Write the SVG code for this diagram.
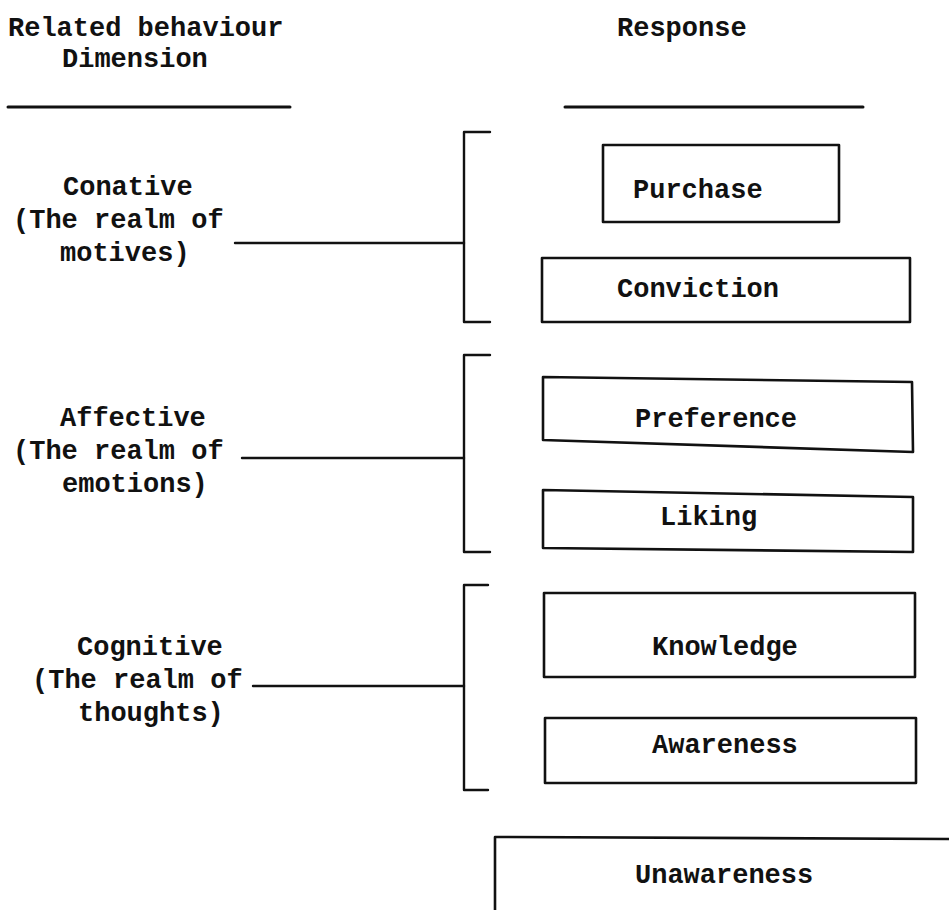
<svg xmlns="http://www.w3.org/2000/svg" width="949" height="910" viewBox="0 0 949 910">
  <style>
    text { font-family: "Liberation Mono", "DejaVu Sans Mono", monospace; font-weight: bold; font-size: 27px; fill: #111; }
    .box { fill: #fff; stroke: #111; stroke-width: 2.6; stroke-linejoin: round; }
    .rule { stroke: #111; stroke-width: 3; fill: none; stroke-linecap: round; }
    .link { stroke: #111; stroke-width: 2.4; fill: none; stroke-linecap: round; stroke-linejoin: round; }
  </style>
  <rect width="949" height="910" fill="#fff"/>

  <!-- column headings -->
  <g id="heading-dimension">
    <text x="8" y="36">Related behaviour</text>
    <text x="62" y="67">Dimension</text>
    <line class="rule" x1="8" y1="107" x2="290" y2="107"/>
  </g>
  <g id="heading-response">
    <text x="617" y="36">Response</text>
    <line class="rule" x1="565" y1="107" x2="863" y2="107"/>
  </g>

  <!-- behaviour dimensions -->
  <g id="dim-conative">
    <text x="63" y="195">Conative</text>
    <text x="13" y="228">(The realm of</text>
    <text x="60" y="261">motives)</text>
  </g>
  <g id="dim-affective">
    <text x="60" y="426">Affective</text>
    <text x="13" y="459">(The realm of</text>
    <text x="62" y="492">emotions)</text>
  </g>
  <g id="dim-cognitive">
    <text x="77" y="655">Cognitive</text>
    <text x="32" y="688">(The realm of</text>
    <text x="78" y="721">thoughts)</text>
  </g>

  <!-- response stages -->
  <g id="resp-purchase">
    <rect class="box" x="603" y="145" width="236" height="77"/>
    <text x="633" y="198">Purchase</text>
  </g>
  <g id="resp-conviction">
    <rect class="box" x="542" y="258" width="368" height="64"/>
    <text x="617" y="297">Conviction</text>
  </g>
  <g id="resp-preference">
    <polygon class="box" points="543,377 912,382 913,452 543,440"/>
    <text x="635" y="427">Preference</text>
  </g>
  <g id="resp-liking">
    <polygon class="box" points="543,490 913,497 913,552 543,548"/>
    <text x="660" y="525">Liking</text>
  </g>
  <g id="resp-knowledge">
    <rect class="box" x="544" y="593" width="371" height="84"/>
    <text x="652" y="655">Knowledge</text>
  </g>
  <g id="resp-awareness">
    <rect class="box" x="545" y="718" width="371" height="65"/>
    <text x="652" y="753">Awareness</text>
  </g>
  <g id="resp-unawareness">
    <polyline class="box" points="960,839 495,837 495,915"/>
    <text x="635" y="883">Unawareness</text>
  </g>

  <!-- brackets and leader lines -->
  <g id="connectors">
    <path class="link" d="M490,132 H464 V322 H490"/>
    <line class="link" x1="235" y1="243" x2="464" y2="243"/>
    <path class="link" d="M490,355 H464 V552 H490"/>
    <line class="link" x1="242" y1="458" x2="464" y2="458"/>
    <path class="link" d="M488,585 H464 V790 H488"/>
    <line class="link" x1="253" y1="686" x2="464" y2="686"/>
  </g>
</svg>
